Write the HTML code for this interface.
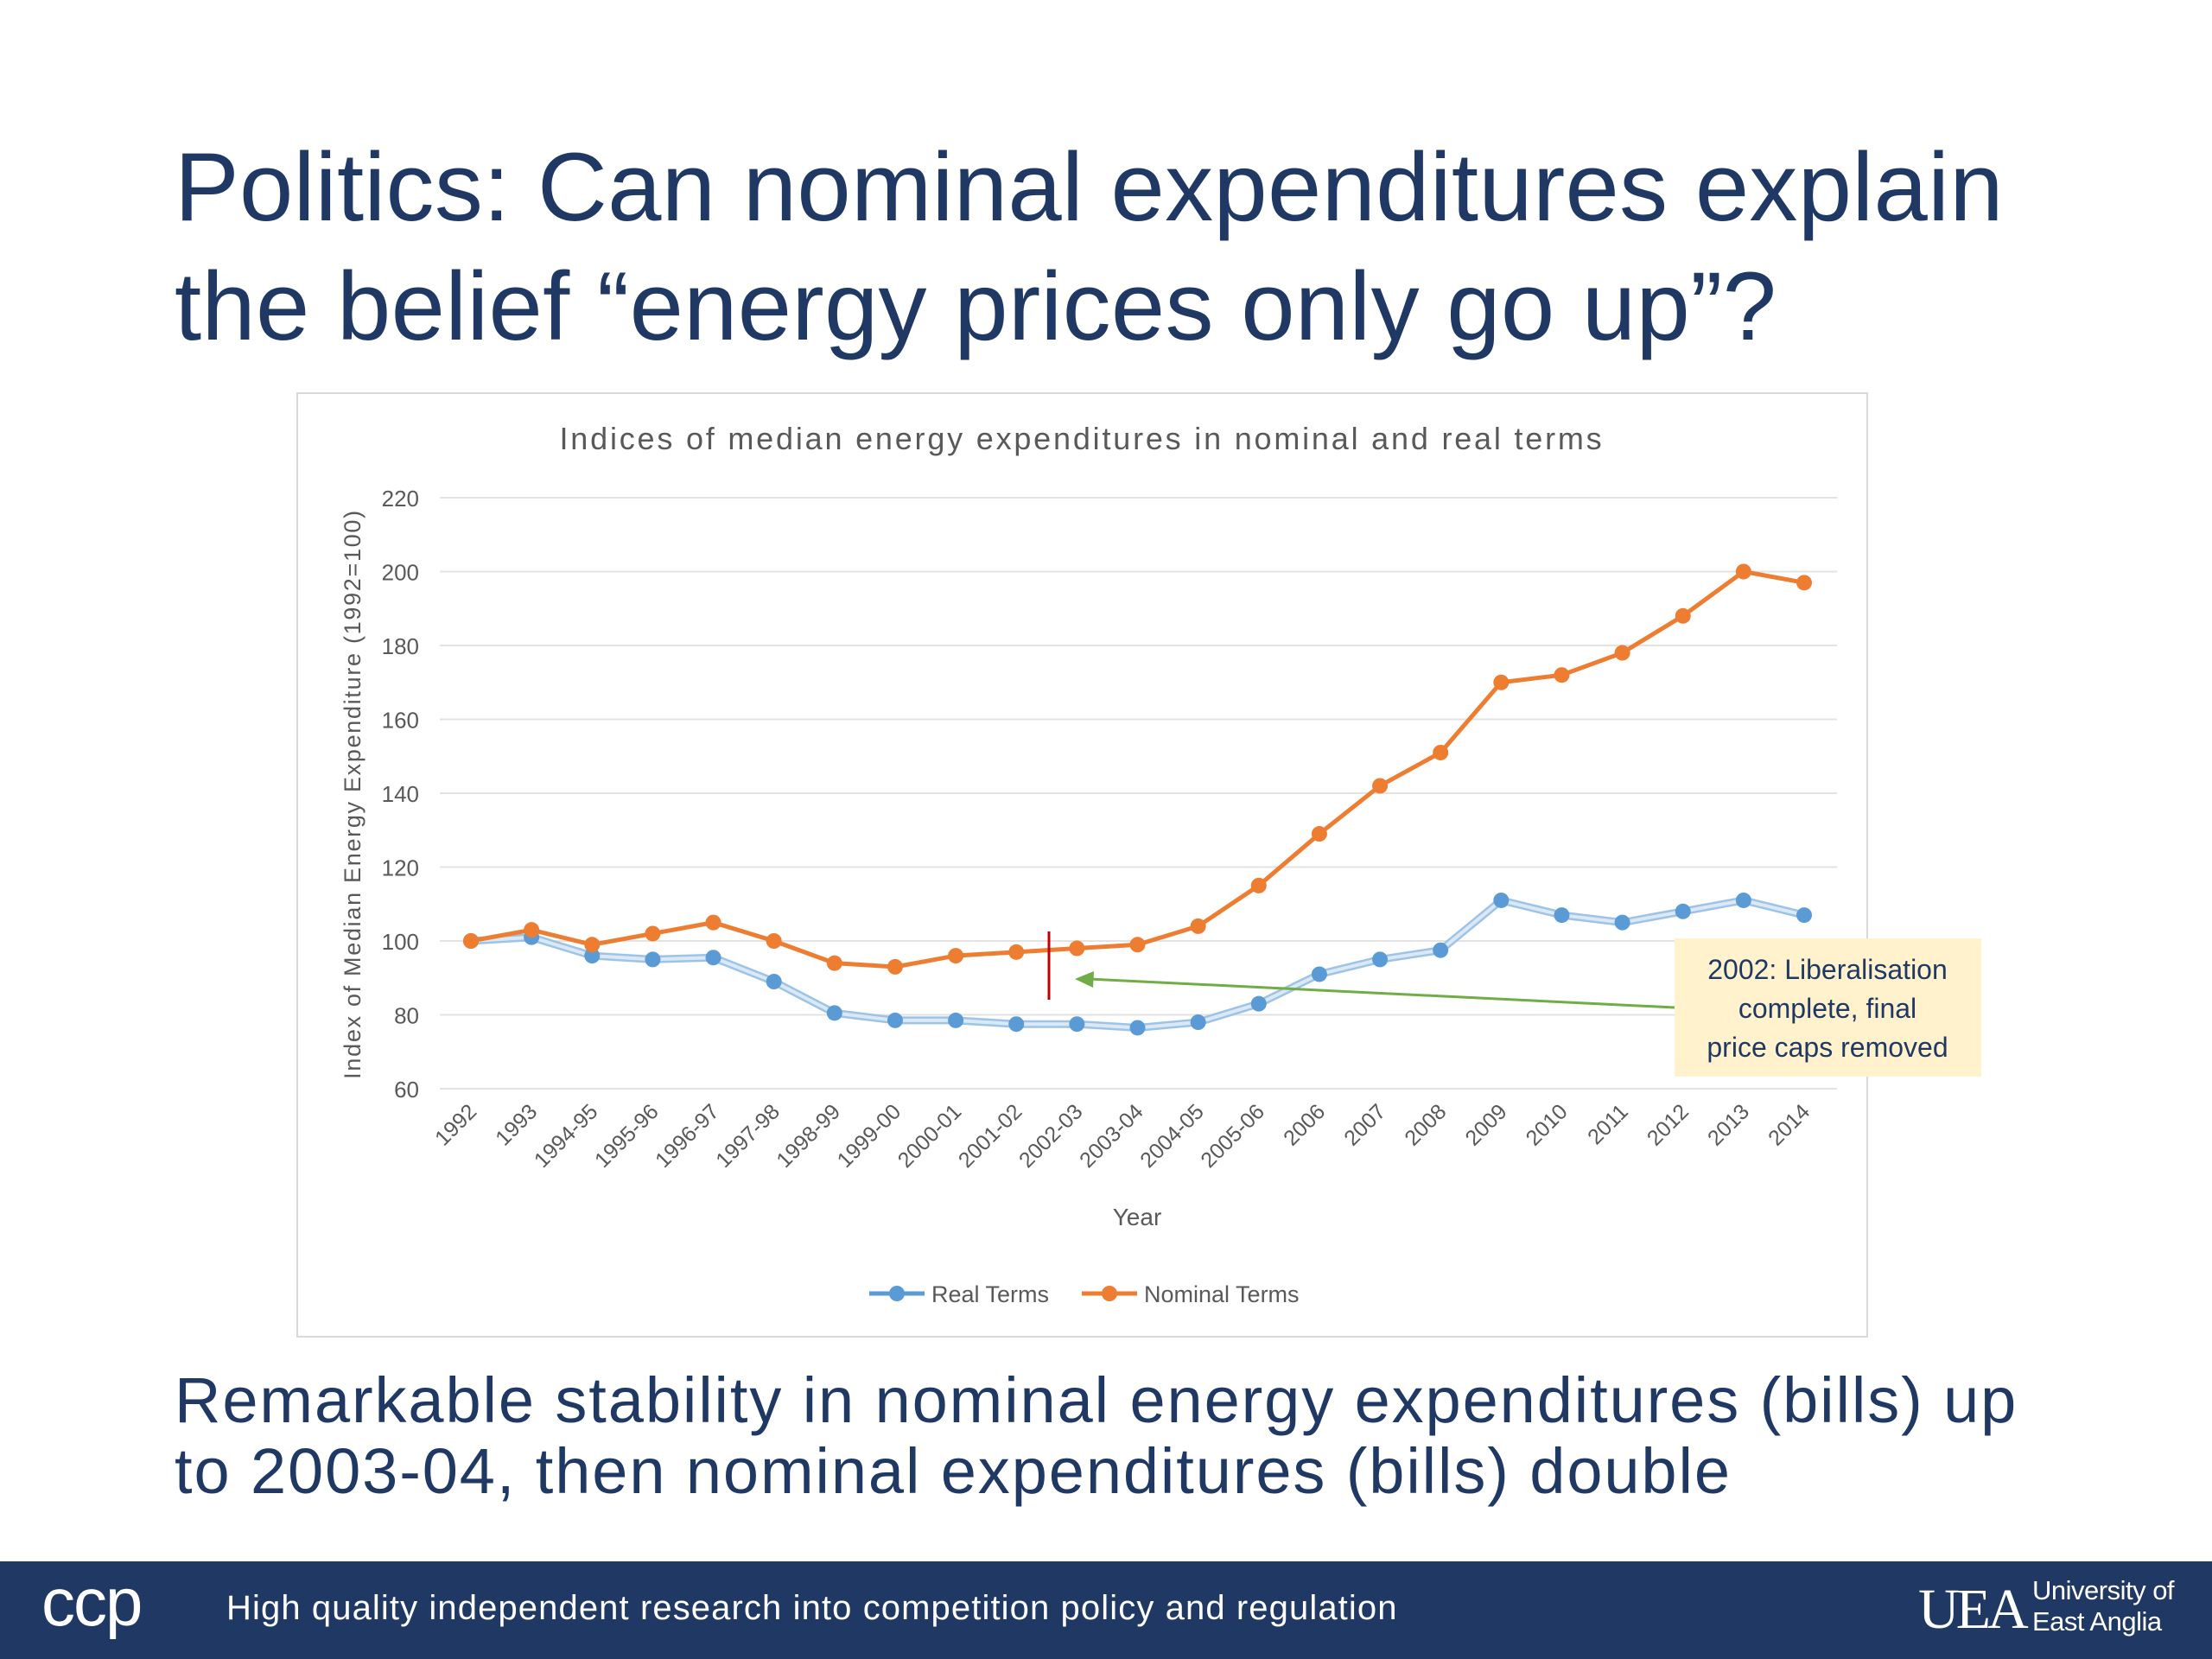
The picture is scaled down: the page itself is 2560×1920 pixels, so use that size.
<!DOCTYPE html>
<html><head><meta charset="utf-8"><style>
body{margin:0;width:2560px;height:1920px;background:#fff;position:relative;overflow:hidden;font-family:"Liberation Sans",sans-serif}
.t{position:absolute;color:#1f3864;white-space:nowrap}
</style></head><body>
<div class="t" style="left:202px;top:148px;font-size:112px;line-height:138px;letter-spacing:0.3px">Politics: Can nominal expenditures explain<br>the belief “energy prices only go up”?</div>
<svg id="chart" width="2560" height="1920" style="position:absolute;left:0;top:0" font-family="Liberation Sans, sans-serif"></svg>
<div class="t" style="left:202px;top:1580px;font-size:74px;line-height:82px;letter-spacing:1.9px">Remarkable stability in nominal energy expenditures (bills) up<br>to 2003-04, then nominal expenditures (bills) double</div>
<div style="position:absolute;left:0;top:1807px;width:2560px;height:113px;background:#1f3864">
<div style="position:absolute;left:48px;top:2px;color:#fff;font-size:78px;letter-spacing:-2px">ccp</div>
<div style="position:absolute;left:262px;top:32px;color:#fff;font-size:40px;letter-spacing:1.1px">High quality independent research into competition policy and regulation</div>
<div style="position:absolute;left:2220px;top:18px;color:#fff;font-family:'Liberation Serif',serif;font-size:66px;letter-spacing:-4px">UEA</div>
<div style="position:absolute;left:2352px;top:16px;color:#fff;font-size:31px;line-height:36px;letter-spacing:-0.5px">University of<br>East Anglia</div>
</div>
<script>
const categories=["1992","1993","1994-95","1995-96","1996-97","1997-98","1998-99","1999-00","2000-01","2001-02","2002-03","2003-04","2004-05","2005-06","2006","2007","2008","2009","2010","2011","2012","2013","2014"];
const realTerms=[100,101,96,95,95.5,89,80.5,78.5,78.5,77.5,77.5,76.5,78,83,91,95,97.5,111,107,105,108,111,107];
const nominalTerms=[100,103,99,102,105,100,94,93,96,97,98,99,104,115,129,142,151,170,172,178,188,200,197];
const yTicks=[60,80,100,120,140,160,180,200,220];
const svg=document.getElementById('chart');
const NS='http://www.w3.org/2000/svg';
function el(t,a,p){const e=document.createElementNS(NS,t);for(const k in a)e.setAttribute(k,a[k]);(p||svg).appendChild(e);return e;}
const x0=509,x1=2126,yTop=576,yBot=1260;
const xs=i=>545+i*(2088-545)/(categories.length-1);
const ys=v=>yBot-(v-60)/(220-60)*(yBot-yTop);
let f=el('rect',{x:344,y:455,width:1817,height:1092,fill:'#fff',stroke:'#d9d9d9','stroke-width':2});

let ct=el('text',{x:1252,y:520,'text-anchor':'middle','font-size':36,fill:'#595959','letter-spacing':2.8});ct.textContent='Indices of median energy expenditures in nominal and real terms';

yTicks.forEach(v=>{
 const g=el('line',{x1:x0,x2:x1,y1:ys(v),y2:ys(v),stroke:'#e3e3e3','stroke-width':2});
 
 const t=el('text',{x:485,y:ys(v)+10,'text-anchor':'end','font-size':26,fill:'#595959'});t.textContent=v;
 
});
categories.forEach((c,i)=>{
 const t=el('text',{x:xs(i)+8,y:1288,'text-anchor':'end','font-size':25,fill:'#595959',transform:`rotate(-45 ${xs(i)+8} 1288)`});t.textContent=c;
 
});
let yt=el('text',{x:0,y:0,'text-anchor':'middle','font-size':27,fill:'#595959','letter-spacing':1.7,transform:'translate(417 919) rotate(-90)'});yt.textContent='Index of Median Energy Expenditure (1992=100)';

let xt=el('text',{x:1316,y:1418,'text-anchor':'middle','font-size':28,fill:'#595959'});xt.textContent='Year';

function series(vals,color,name,wide){
 const pts=vals.map((v,i)=>xs(i)+','+ys(v)).join(' ');
 if(wide){const o=el('polyline',{points:pts,fill:'none',stroke:'#9dc3e6','stroke-width':9});}
 const l=el('polyline',{points:pts,fill:'none',stroke:wide?'#dbe9f6':color,'stroke-width':wide?4:5});
 
 vals.forEach((v,i)=>{const c=el('circle',{cx:xs(i),cy:ys(v),r:9,fill:color});
  });
}
series(realTerms,'#5b9bd5','real-terms',true);
series(nominalTerms,'#ed7d31','nominal-terms',false);
let rl=el('line',{x1:1214,x2:1214,y1:1078,y2:1157,stroke:'#c00000','stroke-width':3});

let ar=el('line',{x1:1938,y1:1166,x2:1260,y2:1133,stroke:'#70ad47','stroke-width':3});

let ah=el('polygon',{points:'1244,1133 1266,1124 1265,1143',fill:'#70ad47'});

let bx=el('rect',{x:1938,y:1086,width:355,height:160,fill:'#fff2cc'});

['2002: Liberalisation','complete, final','price caps removed'].forEach((s,i)=>{
 const t=el('text',{x:2115,y:1133+i*45,'text-anchor':'middle','font-size':32,fill:'#1f3864'});t.textContent=s;
 
});
[[1006,'#5b9bd5','Real Terms','legend-real-terms'],[1252,'#ed7d31','Nominal Terms','legend-nominal-terms']].forEach(([lx,c,s,n])=>{
 const l=el('line',{x1:lx,x2:lx+64,y1:1497,y2:1497,stroke:c,'stroke-width':5});
 const d=el('circle',{cx:lx+32,cy:1497,r:9,fill:c});
 const t=el('text',{x:lx+72,y:1507,'font-size':27,fill:'#595959'});t.textContent=s;
});
</script>
</body></html>
